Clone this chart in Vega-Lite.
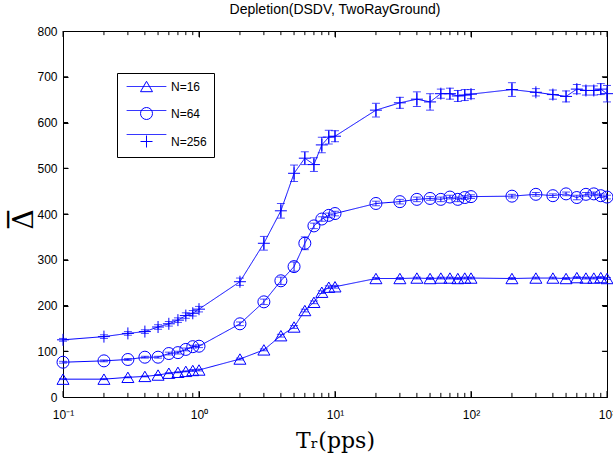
{
  "$schema": "https://vega.github.io/schema/vega-lite/v6.json",
  "width": 544,
  "height": 366,
  "autosize": {"type": "none"},
  "padding": {"left": 63, "top": 31, "right": 6, "bottom": 60},
  "background": "white",
  "title": {"text": "Depletion(DSDV, TwoRayGround)", "font": "Liberation Sans", "fontSize": 14, "fontWeight": "normal", "color": "#000", "offset": 8, "anchor": "middle"},
  "config": {
    "view": {"stroke": "#000", "strokeWidth": 1, "fill": "transparent"},
    "axis": {"labelFont": "Liberation Sans", "labelFontSize": 12, "labelColor": "#000", "ticks": true, "tickColor": "#000", "tickOpacity": 1, "tickWidth": 1, "domain": false, "grid": false, "labelOverlap": false, "labelFlush": false}
  },
  "datasets": {
    "majorX": [{"t": 0.1}, {"t": 1}, {"t": 10}, {"t": 100}, {"t": 1000}],
    "minorX": [{"t": 0.2}, {"t": 0.3}, {"t": 0.4}, {"t": 0.5}, {"t": 0.6}, {"t": 0.7}, {"t": 0.8}, {"t": 0.9},
               {"t": 2}, {"t": 3}, {"t": 4}, {"t": 5}, {"t": 6}, {"t": 7}, {"t": 8}, {"t": 9},
               {"t": 20}, {"t": 30}, {"t": 40}, {"t": 50}, {"t": 60}, {"t": 70}, {"t": 80}, {"t": 90},
               {"t": 200}, {"t": 300}, {"t": 400}, {"t": 500}, {"t": 600}, {"t": 700}, {"t": 800}, {"t": 900}],
    "majorY": [{"t": 100}, {"t": 200}, {"t": 300}, {"t": 400}, {"t": 500}, {"t": 600}, {"t": 700}]
  },
  "data": {"values": [
    {"N": "N=16", "T": 0.1, "v": 39, "e": 1},
    {"N": "N=16", "T": 0.2, "v": 39, "e": 1},
    {"N": "N=16", "T": 0.3, "v": 43, "e": 1},
    {"N": "N=16", "T": 0.4, "v": 45, "e": 1},
    {"N": "N=16", "T": 0.5, "v": 48, "e": 1},
    {"N": "N=16", "T": 0.6, "v": 52, "e": 1},
    {"N": "N=16", "T": 0.7, "v": 54, "e": 1},
    {"N": "N=16", "T": 0.8, "v": 56, "e": 1},
    {"N": "N=16", "T": 0.9, "v": 58, "e": 2},
    {"N": "N=16", "T": 1, "v": 59, "e": 2},
    {"N": "N=16", "T": 2, "v": 83, "e": 2},
    {"N": "N=16", "T": 3, "v": 103, "e": 2},
    {"N": "N=16", "T": 4, "v": 134, "e": 3},
    {"N": "N=16", "T": 5, "v": 153, "e": 3},
    {"N": "N=16", "T": 6, "v": 189, "e": 3},
    {"N": "N=16", "T": 7, "v": 207, "e": 3},
    {"N": "N=16", "T": 8, "v": 229, "e": 3},
    {"N": "N=16", "T": 9, "v": 240, "e": 3},
    {"N": "N=16", "T": 10, "v": 241, "e": 3},
    {"N": "N=16", "T": 20, "v": 259, "e": 2},
    {"N": "N=16", "T": 30, "v": 259, "e": 2},
    {"N": "N=16", "T": 40, "v": 260, "e": 2},
    {"N": "N=16", "T": 50, "v": 259, "e": 2},
    {"N": "N=16", "T": 60, "v": 260, "e": 2},
    {"N": "N=16", "T": 70, "v": 260, "e": 2},
    {"N": "N=16", "T": 80, "v": 259, "e": 2},
    {"N": "N=16", "T": 90, "v": 260, "e": 2},
    {"N": "N=16", "T": 100, "v": 260, "e": 2},
    {"N": "N=16", "T": 200, "v": 259, "e": 2},
    {"N": "N=16", "T": 300, "v": 260, "e": 2},
    {"N": "N=16", "T": 400, "v": 260, "e": 2},
    {"N": "N=16", "T": 500, "v": 259, "e": 2},
    {"N": "N=16", "T": 600, "v": 261, "e": 2},
    {"N": "N=16", "T": 700, "v": 260, "e": 2},
    {"N": "N=16", "T": 800, "v": 260, "e": 2},
    {"N": "N=16", "T": 900, "v": 261, "e": 2},
    {"N": "N=16", "T": 1000, "v": 259, "e": 2},
    {"N": "N=64", "T": 0.1, "v": 76, "e": 2},
    {"N": "N=64", "T": 0.2, "v": 79, "e": 2},
    {"N": "N=64", "T": 0.3, "v": 82, "e": 2},
    {"N": "N=64", "T": 0.4, "v": 87, "e": 2},
    {"N": "N=64", "T": 0.5, "v": 87, "e": 2},
    {"N": "N=64", "T": 0.6, "v": 95, "e": 3},
    {"N": "N=64", "T": 0.7, "v": 97, "e": 3},
    {"N": "N=64", "T": 0.8, "v": 104, "e": 3},
    {"N": "N=64", "T": 0.9, "v": 110, "e": 3},
    {"N": "N=64", "T": 1, "v": 111, "e": 3},
    {"N": "N=64", "T": 2, "v": 160, "e": 4},
    {"N": "N=64", "T": 3, "v": 208, "e": 6},
    {"N": "N=64", "T": 4, "v": 254, "e": 8},
    {"N": "N=64", "T": 5, "v": 285, "e": 10},
    {"N": "N=64", "T": 6, "v": 336, "e": 14},
    {"N": "N=64", "T": 7, "v": 374, "e": 6},
    {"N": "N=64", "T": 8, "v": 389, "e": 5},
    {"N": "N=64", "T": 9, "v": 397, "e": 5},
    {"N": "N=64", "T": 10, "v": 401, "e": 5},
    {"N": "N=64", "T": 20, "v": 423, "e": 5},
    {"N": "N=64", "T": 30, "v": 427, "e": 5},
    {"N": "N=64", "T": 40, "v": 432, "e": 5},
    {"N": "N=64", "T": 50, "v": 434, "e": 4},
    {"N": "N=64", "T": 60, "v": 432, "e": 5},
    {"N": "N=64", "T": 70, "v": 437, "e": 4},
    {"N": "N=64", "T": 80, "v": 432, "e": 5},
    {"N": "N=64", "T": 90, "v": 436, "e": 4},
    {"N": "N=64", "T": 100, "v": 438, "e": 4},
    {"N": "N=64", "T": 200, "v": 439, "e": 4},
    {"N": "N=64", "T": 300, "v": 443, "e": 4},
    {"N": "N=64", "T": 400, "v": 440, "e": 4},
    {"N": "N=64", "T": 500, "v": 444, "e": 4},
    {"N": "N=64", "T": 600, "v": 436, "e": 5},
    {"N": "N=64", "T": 700, "v": 443, "e": 4},
    {"N": "N=64", "T": 800, "v": 444, "e": 4},
    {"N": "N=64", "T": 900, "v": 440, "e": 4},
    {"N": "N=64", "T": 1000, "v": 437, "e": 4},
    {"N": "N=256", "T": 0.1, "v": 125, "e": 3},
    {"N": "N=256", "T": 0.2, "v": 132, "e": 4},
    {"N": "N=256", "T": 0.3, "v": 139, "e": 4},
    {"N": "N=256", "T": 0.4, "v": 143, "e": 4},
    {"N": "N=256", "T": 0.5, "v": 153, "e": 5},
    {"N": "N=256", "T": 0.6, "v": 160, "e": 5},
    {"N": "N=256", "T": 0.7, "v": 168, "e": 5},
    {"N": "N=256", "T": 0.8, "v": 178, "e": 6},
    {"N": "N=256", "T": 0.9, "v": 183, "e": 6},
    {"N": "N=256", "T": 1, "v": 192, "e": 6},
    {"N": "N=256", "T": 2, "v": 252, "e": 8},
    {"N": "N=256", "T": 3, "v": 336, "e": 15},
    {"N": "N=256", "T": 4, "v": 407, "e": 16},
    {"N": "N=256", "T": 5, "v": 489, "e": 18},
    {"N": "N=256", "T": 6, "v": 522, "e": 14},
    {"N": "N=256", "T": 7, "v": 508, "e": 15},
    {"N": "N=256", "T": 8, "v": 551, "e": 17},
    {"N": "N=256", "T": 9, "v": 568, "e": 15},
    {"N": "N=256", "T": 10, "v": 570, "e": 12},
    {"N": "N=256", "T": 20, "v": 627, "e": 15},
    {"N": "N=256", "T": 30, "v": 643, "e": 12},
    {"N": "N=256", "T": 40, "v": 651, "e": 16},
    {"N": "N=256", "T": 50, "v": 645, "e": 18},
    {"N": "N=256", "T": 60, "v": 663, "e": 10},
    {"N": "N=256", "T": 70, "v": 663, "e": 12},
    {"N": "N=256", "T": 80, "v": 658, "e": 12},
    {"N": "N=256", "T": 90, "v": 660, "e": 12},
    {"N": "N=256", "T": 100, "v": 662, "e": 10},
    {"N": "N=256", "T": 200, "v": 672, "e": 15},
    {"N": "N=256", "T": 300, "v": 666, "e": 8},
    {"N": "N=256", "T": 400, "v": 661, "e": 10},
    {"N": "N=256", "T": 500, "v": 657, "e": 12},
    {"N": "N=256", "T": 600, "v": 673, "e": 10},
    {"N": "N=256", "T": 700, "v": 670, "e": 10},
    {"N": "N=256", "T": 800, "v": 670, "e": 10},
    {"N": "N=256", "T": 900, "v": 673, "e": 12},
    {"N": "N=256", "T": 1000, "v": 663, "e": 18}
  ]},
  "layer": [
    {
      "mark": {"type": "line", "color": "#0000ff", "strokeWidth": 1},
      "encoding": {
        "x": {"field": "T", "type": "quantitative", "scale": {"type": "log", "domain": [0.1, 1000], "nice": false},
          "axis": {"orient": "bottom", "values": [0.1, 1, 10, 100, 1000], "zindex": 2,
            "labelExpr": "datum.value == 0.1 ? '10⁻¹' : datum.value == 1 ? '10⁰' : datum.value == 10 ? '10¹' : datum.value == 100 ? '10²' : '10³'",
            "offset": -6, "ticks": true, "tickSize": 6, "labelPadding": 12,
            "title": "Tᵣ(pps)", "titleFont": "DejaVu Serif", "titleFontSize": 22, "titleFontWeight": "normal", "titleColor": "#000",
            "titleX": 272, "titleY": 56, "titleAlign": "center", "titleBaseline": "alphabetic"}},
        "y": {"field": "v", "type": "quantitative", "scale": {"domain": [0, 800], "nice": false},
          "axis": {"orient": "left", "values": [0,100,200,300,400,500,600,700,800], "zindex": 2, "offset": -5, "ticks": true, "tickSize": 5, "labelPadding": 6,
            "title": ["−", "Δ"], "titleFont": "DejaVu Serif", "titleFontSize": 28, "titleFontWeight": "normal", "titleColor": "#000", "titleLineHeight": 16,
            "titleX": -52, "titleY": 188, "titleAngle": -90, "titleAlign": "center", "titleBaseline": "alphabetic"}},
        "strokeDash": {"field": "N", "type": "nominal", "sort": ["N=16", "N=64", "N=256"],
          "scale": {"range": [[1, 0], [1, 0], [1, 0]]},
          "legend": {"title": null, "orient": "none", "legendX": 54, "legendY": 42, "padding": 7, "rowPadding": 11,
            "symbolType": "M-3.3,0H3.3", "symbolSize": 144, "symbolOffset": 16, "labelOffset": 18,
            "labelExpr": "''", "labelFontSize": 12,
            "symbolStrokeColor": "#0000ff", "symbolStrokeWidth": 1, "symbolFillColor": "transparent", "zindex": 4}}
      }
    },
    {
      "mark": {"type": "errorbar", "ticks": {"size": 8}, "color": "#0000ff", "thickness": 1},
      "encoding": {
        "x": {"field": "T", "type": "quantitative", "scale": {"type": "log", "domain": [0.1, 1000], "nice": false}, "axis": null},
        "y": {"field": "v", "type": "quantitative", "scale": {"domain": [0, 800], "nice": false}, "axis": null},
        "yError": {"field": "e"}
      }
    },
    {
      "mark": {"type": "point", "filled": false, "color": "#0000ff", "size": 144, "strokeWidth": 1, "opacity": 1},
      "encoding": {
        "x": {"field": "T", "type": "quantitative", "scale": {"type": "log", "domain": [0.1, 1000], "nice": false},
          "axis": {"orient": "top", "values": [0.1, 1, 10, 100, 1000], "zindex": 2, "labels": false, "title": null, "offset": -6, "ticks": true, "tickSize": 6}},
        "y": {"field": "v", "type": "quantitative", "scale": {"domain": [0, 800], "nice": false},
          "axis": {"orient": "right", "values": [0,100,200,300,400,500,600,700,800], "zindex": 2, "labels": false, "title": null, "offset": -5, "ticks": true, "tickSize": 5}},
        "shape": {"field": "N", "type": "nominal",
          "scale": {"domain": ["N=16", "N=64", "N=256"], "range": ["triangle-up", "circle", "M-1,0H1M0,-1V1"]},
          "legend": {"title": null, "orient": "none", "legendX": 54, "legendY": 42, "padding": 7, "rowPadding": 11,
            "strokeColor": "#000", "fillColor": "#fff", "cornerRadius": 0,
            "symbolSize": 144, "symbolOffset": 16, "labelOffset": 18,
            "labelFont": "Liberation Sans", "labelFontSize": 12, "labelColor": "#000",
            "symbolStrokeColor": "#0000ff", "symbolFillColor": "transparent", "symbolStrokeWidth": 1, "zindex": 3}
        }
      }
    },
    {
      "data": {"name": "majorX"},
      "mark": {"type": "rule", "color": "#000", "strokeWidth": 1},
      "encoding": {
        "x": {"field": "t", "type": "quantitative", "scale": {"type": "log", "domain": [0.1, 1000], "nice": false}, "axis": null},
        "y": {"datum": 0, "type": "quantitative", "scale": {"domain": [0, 800], "nice": false}, "axis": null},
        "y2": {"datum": 13}
      }
    },
    {
      "data": {"name": "majorX"},
      "mark": {"type": "rule", "color": "#000", "strokeWidth": 1},
      "encoding": {
        "x": {"field": "t", "type": "quantitative", "scale": {"type": "log", "domain": [0.1, 1000], "nice": false}, "axis": null},
        "y": {"datum": 800, "type": "quantitative", "scale": {"domain": [0, 800], "nice": false}, "axis": null},
        "y2": {"datum": 787}
      }
    },
    {
      "data": {"name": "minorX"},
      "mark": {"type": "rule", "color": "#000", "strokeWidth": 1},
      "encoding": {
        "x": {"field": "t", "type": "quantitative", "scale": {"type": "log", "domain": [0.1, 1000], "nice": false}, "axis": null},
        "y": {"datum": 0, "type": "quantitative", "scale": {"domain": [0, 800], "nice": false}, "axis": null},
        "y2": {"datum": 9}
      }
    },
    {
      "data": {"name": "minorX"},
      "mark": {"type": "rule", "color": "#000", "strokeWidth": 1},
      "encoding": {
        "x": {"field": "t", "type": "quantitative", "scale": {"type": "log", "domain": [0.1, 1000], "nice": false}, "axis": null},
        "y": {"datum": 800, "type": "quantitative", "scale": {"domain": [0, 800], "nice": false}, "axis": null},
        "y2": {"datum": 791}
      }
    },
    {
      "data": {"name": "majorY"},
      "mark": {"type": "rule", "color": "#000", "strokeWidth": 1},
      "encoding": {
        "y": {"field": "t", "type": "quantitative", "scale": {"domain": [0, 800], "nice": false}, "axis": null},
        "x": {"datum": 0.1, "type": "quantitative", "scale": {"type": "log", "domain": [0.1, 1000], "nice": false}, "axis": null},
        "x2": {"datum": 0.109}
      }
    },
    {
      "data": {"name": "majorY"},
      "mark": {"type": "rule", "color": "#000", "strokeWidth": 1},
      "encoding": {
        "y": {"field": "t", "type": "quantitative", "scale": {"domain": [0, 800], "nice": false}, "axis": null},
        "x": {"datum": 1000, "type": "quantitative", "scale": {"type": "log", "domain": [0.1, 1000], "nice": false}, "axis": null},
        "x2": {"datum": 918}
      }
    }
  ],
  "resolve": {"axis": {"x": "independent", "y": "independent"}}
}
